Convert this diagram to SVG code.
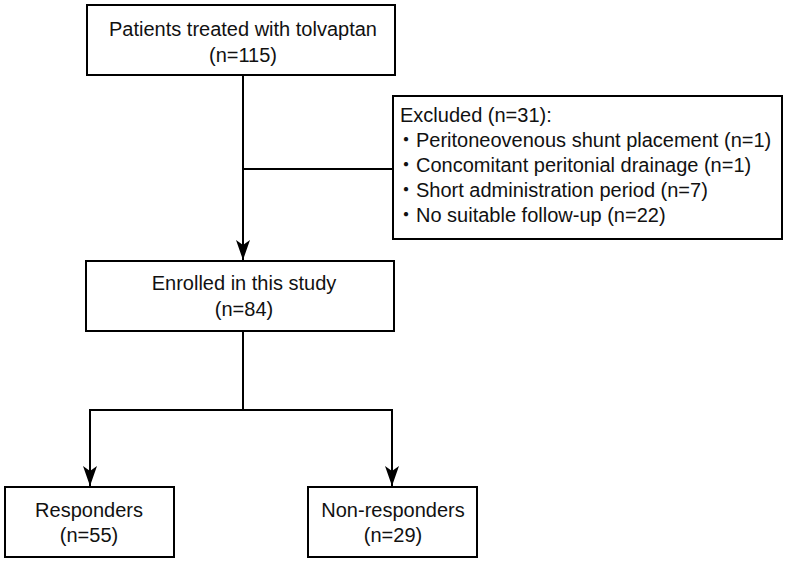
<svg xmlns="http://www.w3.org/2000/svg" width="787" height="565" viewBox="0 0 787 565">
<style>
  .box { fill: #ffffff; stroke: #000000; stroke-width: 2; }
  .t { font-family: "Liberation Sans", Arial, "Noto Sans CJK JP", sans-serif; font-size: 20px; fill: #111111; }
  .c { text-anchor: middle; }
  .conn { fill: none; stroke: #000000; stroke-width: 2; }
</style>
<defs>
  <marker id="arrow" markerUnits="userSpaceOnUse" viewBox="0 0 20 14" markerWidth="20" markerHeight="14" refX="20" refY="7" orient="auto">
    <path d="M0,0 L20,7 L0,14 L5,7 Z" fill="#000000"/>
  </marker>
</defs>
<rect width="787" height="565" fill="#ffffff"/>
<g id="connectors">
  <path class="conn" d="M243,75 V260" marker-end="url(#arrow)"/>
  <path class="conn" d="M243,169 H393"/>
  <path class="conn" d="M243,331 V410"/>
  <path class="conn" d="M89,410 H393"/>
  <path class="conn" d="M90,409 V486" marker-end="url(#arrow)"/>
  <path class="conn" d="M392,409 V486" marker-end="url(#arrow)"/>
</g>
<g id="node-treated">
  <rect class="box" x="87" y="5" width="308" height="70"/>
  <text class="t c" x="243" y="36">Patients treated with tolvaptan</text>
  <text class="t c" x="243" y="62">(n=115)</text>
</g>
<g id="node-excluded">
  <rect class="box" x="393" y="96" width="389" height="143"/>
  <text class="t" x="400" y="122">Excluded (n=31):</text>
  <text class="t" x="396" y="147">・Peritoneovenous shunt placement (n=1)</text>
  <text class="t" x="396" y="172">・Concomitant peritonial drainage (n=1)</text>
  <text class="t" x="396" y="197">・Short administration period (n=7)</text>
  <text class="t" x="396" y="222">・No suitable follow-up (n=22)</text>
</g>
<g id="node-enrolled">
  <rect class="box" x="86" y="261" width="308" height="70"/>
  <text class="t c" x="244" y="290">Enrolled in this study</text>
  <text class="t c" x="244" y="316">(n=84)</text>
</g>
<g id="node-responders">
  <rect class="box" x="5" y="487" width="169" height="70"/>
  <text class="t c" x="89" y="517">Responders</text>
  <text class="t c" x="89" y="542">(n=55)</text>
</g>
<g id="node-nonresponders">
  <rect class="box" x="308" y="487" width="169" height="70"/>
  <text class="t c" x="393" y="517">Non-responders</text>
  <text class="t c" x="393" y="542">(n=29)</text>
</g>
</svg>
